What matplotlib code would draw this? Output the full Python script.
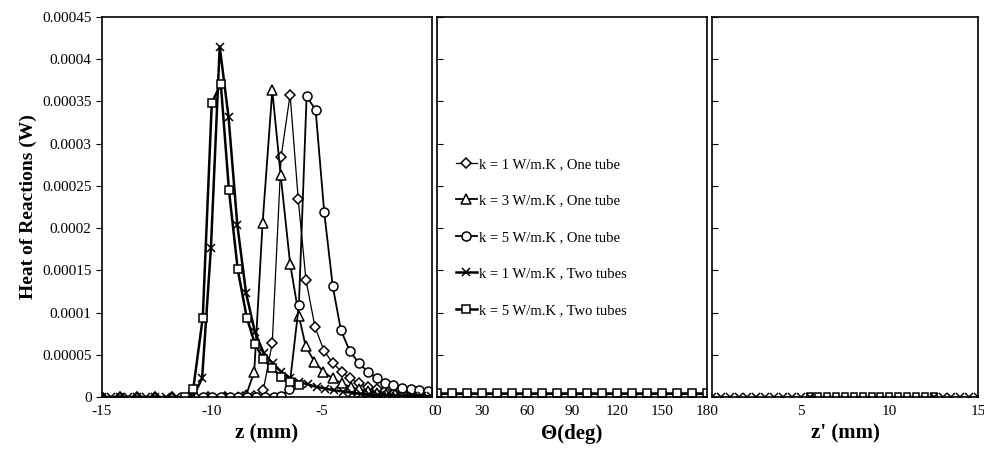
import matplotlib.pyplot as plt
from matplotlib.ticker import FixedLocator

plt.rcParams['font.family'] = ['Liberation Serif', 'DejaVu Serif']
plt.rcParams['axes.unicode_minus'] = False

# left panel: z (mm)
z_k1_one = [-15.0, -14.2, -13.4, -12.6, -11.8, -11.0, -10.2, -9.4, -8.6, -8.07, -7.67, -7.26, -6.86, -6.45, -6.08, -5.73,
            -5.32, -4.91, -4.51, -4.1, -3.72, -3.32, -2.92, -2.52, -2.12, -1.72, -1.32, -0.92, -0.5, -0.1]
q_k1_one = [0, 0, 0, 0, 0, 0, 0, 0, 0, 1e-6, 8e-6, 6.4e-5, 2.84e-4, 3.58e-4, 2.34e-4, 1.39e-4,
            8.3e-5, 5.5e-5, 4.0e-5, 3.0e-5, 2.2e-5, 1.6e-5, 1.2e-5, 9e-6, 7e-6, 5e-6, 4e-6, 3e-6, 2e-6, 2e-6]

z_k3_one = [-15.0, -14.2, -13.4, -12.6, -11.8, -11.0, -10.2, -9.4, -8.8, -8.45, -8.08, -7.7, -7.26, -6.88, -6.45, -6.05,
            -5.74, -5.35, -4.94, -4.51, -4.1, -3.7, -3.3, -2.9, -2.5, -2.1, -1.7, -1.3, -0.9, -0.5, -0.1]
q_k3_one = [0, 0, 0, 0, 0, 0, 0, 0, 0, 2e-6, 3.0e-5, 2.06e-4, 3.63e-4, 2.63e-4, 1.58e-4, 9.6e-5,
            6.0e-5, 4.2e-5, 3.0e-5, 2.2e-5, 1.6e-5, 1.2e-5, 9e-6, 7e-6, 5e-6, 4e-6, 3e-6, 2e-6, 2e-6, 1e-6, 1e-6]

z_k5_one = [-10.8, -10.4, -10.0, -9.6, -9.2, -8.8, -8.4, -8.0, -7.6, -7.2, -6.85, -6.49, -6.05, -5.7, -5.29, -4.9,
            -4.51, -4.14, -3.73, -3.32, -2.92, -2.52, -2.14, -1.77, -1.36, -0.95, -0.59, -0.2]
q_k5_one = [0, 0, 0, 0, 0, 0, 0, 0, 0, 0, 1e-6, 1.0e-5, 1.09e-4, 3.56e-4, 3.4e-4, 2.19e-4,
            1.31e-4, 7.9e-5, 5.4e-5, 4.0e-5, 3.0e-5, 2.2e-5, 1.7e-5, 1.4e-5, 1.1e-5, 9e-6, 8e-6, 7e-6]

z_k1_two = [-15.0, -14.6, -14.2, -13.8, -13.4, -13.0, -12.6, -12.1, -11.65, -11.25, -10.85, -10.45, -10.05, -9.65,
            -9.25, -8.85, -8.45, -8.05, -7.65, -7.25, -6.85, -6.45, -6.05, -5.65, -5.25, -4.85, -4.45, -4.05,
            -3.65, -3.25, -2.85, -2.45, -2.05, -1.65, -1.25, -0.85, -0.45, -0.05]
q_k1_two = [0, 0, 0, 0, 0, 0, 0, 0, 0, 0, 1e-6, 2.2e-5, 1.76e-4, 4.15e-4,
            3.32e-4, 2.04e-4, 1.23e-4, 7.7e-5, 5.2e-5, 4.0e-5, 3.0e-5, 2.2e-5, 1.8e-5, 1.5e-5, 1.2e-5, 1.0e-5, 8e-6, 6.5e-6,
            5e-6, 4e-6, 3e-6, 2.5e-6, 2e-6, 1.5e-6, 1e-6, 1e-6, 1e-6, 1e-6]

z_k5_two = [-11.25, -10.85, -10.42, -10.01, -9.6, -9.23, -8.83, -8.42, -8.05, -7.67, -7.26, -6.86, -6.45, -6.05]
q_k5_two = [0, 1.0e-5, 9.4e-5, 3.48e-4, 3.71e-4, 2.45e-4, 1.51e-4, 9.4e-5, 6.3e-5, 4.5e-5, 3.4e-5, 2.4e-5, 1.8e-5, 1.4e-5]

# middle panel: theta (deg)
theta = [0, 10, 20, 30, 40, 50, 60, 70, 80, 90, 100, 110, 120, 130, 140, 150, 160, 170, 180]
q_theta_sq = [5e-6] * 19
q_theta_ci = [4e-6] * 19

# right panel: z' (mm)
zp_star = [0, 0.5, 1.0, 1.5, 2.0, 2.5, 3.0, 3.5, 4.0, 4.5, 5.0, 5.5, 12.5, 13.0, 13.5, 14.0, 14.5, 15.0]
q_zp_star = [0] * 18
zp_sq = [5.5, 6.0, 6.5, 7.0, 7.5, 8.0, 8.5, 9.0, 9.5, 10.0, 10.5, 11.0, 11.5, 12.0, 12.5]
q_zp_sq = [1e-6] * 15

legend_labels = ["k = 1 W/m.K , One tube", "k = 3 W/m.K , One tube", "k = 5 W/m.K , One tube",
                 "k = 1 W/m.K , Two tubes", "k = 5 W/m.K , Two tubes"]

mk = dict(markerfacecolor='white', markeredgecolor='black', color='black', markeredgewidth=1.1)

fig = plt.figure(figsize=(9.84, 4.55), dpi=100)
W, H = 984, 455


def box(x0, x1):
    return [x0 / W, 1 - 397 / H, (x1 - x0) / W, 380 / H]


ax1 = fig.add_axes(box(102, 432))
ax2 = fig.add_axes(box(437, 707))
ax3 = fig.add_axes(box(712, 978))

h1, = ax1.plot(z_k1_one, q_k1_one, marker='D', lw=0.9, markersize=5, **mk)
h2, = ax1.plot(z_k3_one, q_k3_one, marker='^', lw=1.3, markersize=6.5, **mk)
h3, = ax1.plot(z_k5_one, q_k5_one, marker='o', lw=1.3, markersize=6.5, **mk)
h4, = ax1.plot(z_k1_two, q_k1_two, marker='x', lw=1.8, markersize=5.5, **mk)
h5, = ax1.plot(z_k5_two, q_k5_two, marker='s', lw=1.8, markersize=6, **mk)
ax1.set_xlim(-15, 0)
ax1.set_xticks([-15, -10, -5, 0])

ax2.plot(theta, q_theta_ci, marker='o', lw=1.3, markersize=6, **mk)
ax2.plot(theta, q_theta_sq, marker='s', lw=1.8, markersize=6, **mk)
ax2.set_xlim(0, 180)
ax2.set_xticks([0, 30, 60, 90, 120, 150, 180])

ax3.plot(zp_sq, q_zp_sq, marker='s', lw=1, markersize=5, **mk)
ax3.plot(zp_star, q_zp_star, marker='x', lw=1, markersize=6, **mk)
ax3.set_xlim(0, 15)
ax3.set_xticks([5, 10, 15])

yt = [0, 0.00005, 0.0001, 0.00015, 0.0002, 0.00025, 0.0003, 0.00035, 0.0004, 0.00045]
ylab = ['0', '0.00005', '0.0001', '0.00015', '0.0002', '0.00025', '0.0003', '0.00035', '0.0004', '0.00045']
for ax in (ax1, ax2, ax3):
    ax.set_ylim(0, 0.00045)
    ax.yaxis.set_major_locator(FixedLocator(yt))
    ax.tick_params(direction='in', length=4, labelsize=11)
    ax.tick_params(axis='x', length=0, pad=6)
    for s in ax.spines.values():
        s.set_linewidth(1.2)
ax1.set_yticklabels(ylab)
ax1.tick_params(axis='y', direction='out')
ax2.set_yticklabels([])
ax3.set_yticklabels([])

ax1.set_ylabel("Heat of Reactions (W)", fontsize=14, fontweight='bold')
ax1.set_xlabel("z (mm)", fontsize=15, fontweight='bold')
ax2.set_xlabel("Θ(deg)", fontsize=15, fontweight='bold')
ax3.set_xlabel("z' (mm)", fontsize=15, fontweight='bold')

ax2.legend([h1, h2, h3, h4, h5], legend_labels, loc='center left', bbox_to_anchor=(0.02, 0.42),
           frameon=False, fontsize=10.5, handlelength=1.5, handletextpad=0.1, labelspacing=1.6)

plt.savefig("out.png", dpi=100)
